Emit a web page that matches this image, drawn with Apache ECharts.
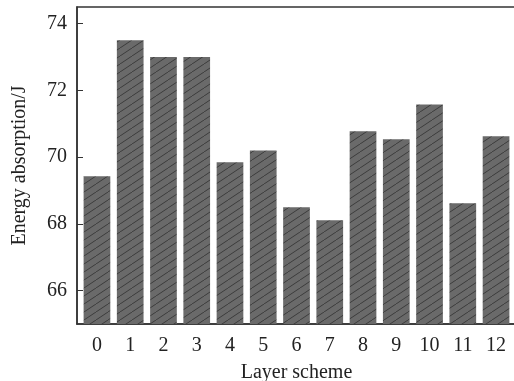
<!DOCTYPE html>
<html>
<head>
<meta charset="utf-8">
<script src="https://cdn.jsdelivr.net/npm/echarts@6/dist/echarts.min.js"></script>
<style>
  html, body { margin: 0; padding: 0; background: #fff; }
  #main { width: 514px; height: 381px; }
</style>
</head>
<body>
<div id="main"></div>
<script>
// layer schemes and their energy absorption
var categories = ['0', '1', '2', '3', '4', '5', '6', '7', '8', '9', '10', '11', '12'];
var energy = [69.43, 73.5, 73.0, 73.0, 69.85, 70.2, 68.5, 68.11, 70.78, 70.54, 71.58, 68.62, 70.63];
var yTicks = [66, 68, 70, 72, 74];

// hatch pattern for the bars
function hatch() {
    var w = 12, h = 8;
    var c = document.createElement('canvas');
    c.width = w; c.height = h;
    var ctx = c.getContext('2d');
    ctx.fillStyle = '#6a6a6a';
    ctx.fillRect(0, 0, w, h);
    ctx.strokeStyle = '#3c3c3c';
    ctx.lineWidth = 1;
    ctx.beginPath();
    ctx.moveTo(0, h); ctx.lineTo(w, 0);
    ctx.moveTo(-w, h); ctx.lineTo(0, 0);
    ctx.moveTo(w, h); ctx.lineTo(2 * w, 0);
    ctx.stroke();
    return c;
}

var font = '"Liberation Serif", "Times New Roman", serif';
var myChart = echarts.init(document.getElementById('main'));
var option = {
    animation: false,
    grid: {
        left: 77, right: -2, top: 7, bottom: 57,
        outerBoundsMode: 'none',
        containLabel: false,
        show: true, borderColor: '#333', borderWidth: 1.5
    },
    xAxis: {
        type: 'value',
        min: -0.6,
        max: 12.6,
        name: 'Layer scheme',
        nameLocation: 'middle',
        nameGap: 39,
        nameTextStyle: { fontFamily: font, fontSize: 20, color: '#222' },
        splitLine: { show: false },
        axisLine: { lineStyle: { color: '#333', width: 1.5 } },
        axisTick: {
            inside: true, length: 6,
            customValues: categories.map(function (c, i) { return i; }),
            lineStyle: { color: '#333' }
        },
        axisLabel: {
            customValues: categories.map(function (c, i) { return i; }),
            formatter: function (v) { return categories[v]; },
            fontFamily: font, fontSize: 20, color: '#222', margin: 12
        }
    },
    yAxis: {
        type: 'value',
        min: 65,
        max: 74.5,
        name: 'Energy absorption/J',
        nameLocation: 'middle',
        nameGap: 47,
        nameTextStyle: { fontFamily: font, fontSize: 20, color: '#222' },
        splitLine: { show: false },
        axisLine: { show: true, onZero: false, lineStyle: { color: '#333', width: 1.5 } },
        axisTick: {
            inside: true, length: 6,
            customValues: yTicks,
            lineStyle: { color: '#333' }
        },
        axisLabel: {
            customValues: yTicks,
            fontFamily: font, fontSize: 20, color: '#222', margin: 10
        }
    },
    series: [{
        type: 'bar',
        barWidth: 26.7,
        data: categories.map(function (c, i) { return [i, energy[i]]; }),
        itemStyle: { color: { image: hatch(), repeat: 'repeat' } },
        z: 1
    }]
};
myChart.setOption(option);
</script>
</body>
</html>
